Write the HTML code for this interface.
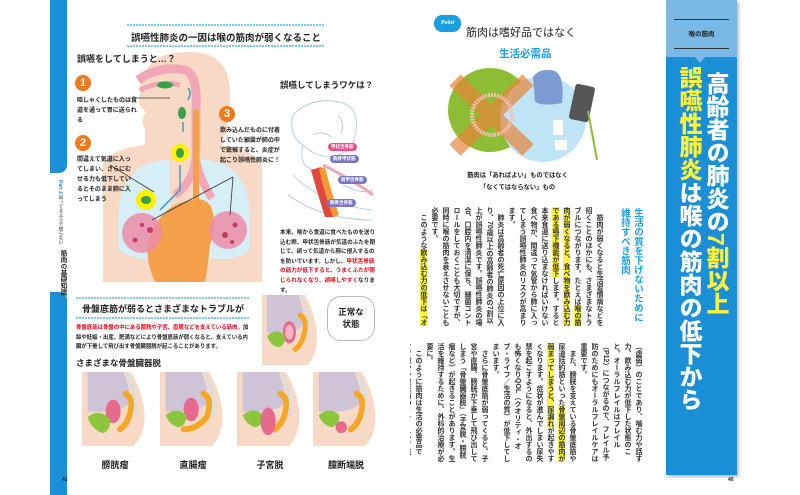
<!DOCTYPE html>
<html><head><meta charset="utf-8"><style>
*{margin:0;padding:0;box-sizing:border-box}
body{width:800px;height:495px;position:relative;overflow:hidden;background:#fff;font-family:"Liberation Sans","Noto Sans CJK JP",sans-serif;color:#222}
.a{position:absolute}
.v{writing-mode:vertical-rl;position:absolute}
.b{font-weight:bold}
.t{font-size:6px;line-height:10px;font-weight:bold}
.hl{background:#fff23a}
.red{color:#e60012}
.dot{position:absolute;height:2px;background:repeating-linear-gradient(90deg,#7fc8ec 0 2px,transparent 2px 3px)}
.num{position:absolute;width:16px;height:16px;border-radius:50%;background:#ee7a1e;color:#fff;font-size:11px;font-weight:bold;text-align:center;line-height:16px}
.pill{position:absolute;font-size:4.5px;color:#fff;border-radius:4px;padding:1px 3px;font-weight:bold}
</style></head><body>

<!-- LEFT PAGE -->
<div class="a" style="left:50px;top:0;width:17px;height:173px;background:#1a8fd6;border-bottom-right-radius:8px"></div>
<div class="a" style="left:50px;top:292px;width:17px;height:203px;background:#1a8fd6;border-top-right-radius:8px"></div>
<div class="v" style="left:57px;top:180px;font-size:5px;color:#1a8fd6;font-weight:bold">Part 2</div>
<div class="v" style="left:58px;top:195px;font-size:4.5px;line-height:6px">知ってるようで知らない</div>
<div class="v b" style="left:57px;top:250px;font-size:6.5px">筋肉の基礎知識</div>

<div class="dot" style="left:127px;top:24px;width:198px"></div>
<div class="a b" style="left:127px;top:30px;width:198px;text-align:center;font-size:9.5px">誤嚥性肺炎の一因は喉の筋肉が弱くなること</div>
<div class="dot" style="left:127px;top:45px;width:198px"></div>

<svg class="a" style="left:100px;top:50px" width="170" height="235">
<path d="M45 25Q50 2 90 2Q128 2 130 40Q130 75 122 95Q150 100 162 112V232H3V112Q15 98 45 95L45 80Q40 70 46 62Q36 55 40 45Q38 32 45 25Z" fill="#f8d9c6"/>
<path d="M18 170Q20 110 70 110V205Q40 215 18 200Z" fill="#d6eef6"/>
<path d="M150 170Q150 110 100 110V205Q130 215 150 200Z" fill="#d6eef6"/>
<path d="M38 30Q60 15 85 20Q98 24 96 60V100" stroke="#f1a7b5" stroke-width="9" fill="none"/>
<path d="M40 40Q60 30 80 35" stroke="#f1a7b5" stroke-width="5" fill="none"/>
<path d="M96 100Q96 130 75 145M96 110Q100 130 112 148" stroke="#f1a7b5" stroke-width="8" fill="none"/>
<path d="M96 60V150" stroke="#f5a04b" stroke-width="6" fill="none"/>
<path d="M96 150Q70 150 55 175Q40 200 55 232H105Q108 215 110 195Q118 170 110 155Q104 148 96 150Z" fill="#f5a04b"/>
<ellipse cx="65" cy="35" rx="8" ry="3.5" fill="#3aa04a"/>
<ellipse cx="82" cy="63" rx="4" ry="6" fill="#3aa04a"/>
<circle cx="80" cy="103" r="9" fill="#fff200"/><ellipse cx="80" cy="103" rx="4" ry="5" fill="#3aa04a"/>
<circle cx="46" cy="150" r="10" fill="#fff200"/><ellipse cx="46" cy="150" rx="5" ry="4" fill="#3aa04a"/>
<circle cx="42" cy="183" r="20" fill="#eb8ca6" opacity=".85"/>
<circle cx="128" cy="180" r="19" fill="#eb8ca6" opacity=".85"/>
<circle cx="50" cy="180" r="3" fill="#c13b6a"/><circle cx="35" cy="190" r="2.5" fill="#c13b6a"/><circle cx="42" cy="175" r="2" fill="#c13b6a"/>
<circle cx="125" cy="185" r="3" fill="#c13b6a"/><circle cx="135" cy="175" r="2.5" fill="#c13b6a"/><circle cx="132" cy="192" r="2" fill="#c13b6a"/>
<path d="M88 38Q92 42 88 50M83 72V82M80 115V140L60 160" stroke="#2e8fd8" stroke-width="1.3" fill="none"/>
<path d="M33 48H70M10 115L54 142M133 127L52 170M133 127L130 165" stroke="#333" stroke-width=".8" fill="none"/>
</svg>
<div class="a b" style="left:77px;top:52px;font-size:9px">誤嚥をしてしまうと…？</div>

<div class="num" style="left:75px;top:75px">1</div>
<div class="a t" style="left:77px;top:96px;width:60px">咀しゃくしたものは食道を通って胃に送られる</div>
<div class="num" style="left:75px;top:135px">2</div>
<div class="a t" style="left:77px;top:155px;width:57px">間違えて気道に入ってしまい、さらにむせる力も低下しているとそのまま肺に入ってしまう</div>
<div class="num" style="left:219px;top:106px">3</div>
<div class="a t" style="left:220px;top:126px;width:60px">飲み込んだものに付着していた細菌が肺の中で繁殖すると、炎症が起こり誤嚥性肺炎に！</div>

<div class="a b" style="left:280px;top:79px;font-size:8.5px">誤嚥してしまうワケは？</div>
<svg class="a" style="left:283px;top:95px" width="95" height="130">
<g stroke="#a9c3e6" stroke-width=".8" fill="none">
<path d="M10 20Q30 0 60 8Q78 15 72 40Q70 55 55 60L45 62Q30 60 20 50Q5 40 10 20Z"/>
<path d="M20 50Q15 70 30 75L45 72M30 40Q40 35 48 42M55 20Q62 28 58 38"/>
<path d="M10 80Q40 110 90 115M5 100Q40 125 90 125M60 90Q80 100 90 95"/>
</g>
<path d="M28 75Q35 100 42 122L52 122Q45 100 38 72Z" fill="#e0473e"/>
<path d="M36 74Q42 100 50 122L56 120Q48 96 42 72Z" fill="#f39a33"/>
<path d="M40 70Q70 85 90 100" stroke="#f0a8b5" stroke-width="3" fill="none"/>
</svg>
<div class="pill" style="left:328px;top:143px;background:#e8508a">甲状舌骨筋</div>
<div class="pill" style="left:330px;top:155px;background:#7a76c4">胸骨甲状筋</div>
<div class="pill" style="left:338px;top:176px;background:#7a76c4">肩甲舌骨筋</div>
<div class="pill" style="left:327px;top:199px;background:#7a76c4">胸骨舌骨筋</div>
<div class="a t" style="left:280px;top:229px;width:98px;font-size:5.6px;line-height:9.6px">本来、喉から食道に食べたものを送り込む際、甲状舌骨筋が気道のふたを閉じて、誤って気道から肺に侵入するのを防いでいます。しかし、<span class="red">甲状舌骨筋の筋力が低下すると、うまくふたが閉じられなくなり、誤嚥しやすく</span>なります。</div>

<div class="dot" style="left:76px;top:297px;width:174px"></div>
<div class="a b" style="left:76px;top:302px;width:174px;text-align:center;font-size:9px">骨盤底筋が弱るとさまざまなトラブルが</div>
<div class="dot" style="left:76px;top:317px;width:174px"></div>
<div class="a t" style="left:76px;top:324px;width:175px;font-size:5.4px;line-height:9.5px"><span class="red">骨盤底筋は骨盤の中にある膀胱や子宮、直腸などを支えている筋肉。</span>加齢や妊娠・出産、肥満などにより骨盤底筋が弱くなると、支えている内臓が下垂して飛び出す骨盤臓器脱が起こることがあります。</div>
<div class="a b" style="left:76px;top:357px;font-size:8.5px">さまざまな骨盤臓器脱</div>

<svg class="a" style="left:262px;top:295px" width="58" height="70" viewBox="0 0 70 75" preserveAspectRatio="none">
<path d="M0 0H52Q64 20 66 40Q68 62 55 75H0Z" fill="#f8d9c6"/><path d="M6 0H44Q52 18 50 32Q40 42 6 40Z" fill="#cfc3d8"/><path d="M48 2Q58 22 56 46" stroke="#bfe3f2" stroke-width="3" stroke-dasharray="3 2" fill="none"/><path d="M46 22Q56 26 50 45Q46 55 40 58" stroke="#f5a623" stroke-width="6" fill="none" stroke-linecap="round"/><ellipse cx="33" cy="40" rx="8" ry="12" fill="#e56a8d"/><ellipse cx="33" cy="40" rx="5" ry="8" fill="#f7b3c6"/><path d="M6 44Q18 34 28 44Q28 54 20 56Q10 54 6 44Z" fill="#8cc63f"/>
</svg>
<div class="a" style="left:327px;top:296px;width:48px;height:45px;border:1px solid #bbb;border-radius:14px;background:#fff;font-size:8.5px;font-weight:bold;text-align:center;line-height:12px;padding-top:9px">正常な<br>状態</div>

<svg class="a" style="left:82px;top:372px" width="66" height="74" viewBox="0 0 70 75" preserveAspectRatio="none">
<path d="M0 0H52Q64 20 66 40Q68 62 55 75H0Z" fill="#f8d9c6"/><path d="M6 0H44Q52 18 50 32Q40 42 6 40Z" fill="#cfc3d8"/><path d="M48 2Q58 22 56 46" stroke="#bfe3f2" stroke-width="3" stroke-dasharray="3 2" fill="none"/><path d="M46 22Q56 26 50 45Q46 55 40 58" stroke="#f5a623" stroke-width="6" fill="none" stroke-linecap="round"/><ellipse cx="33" cy="40" rx="8" ry="12" fill="#e56a8d"/><path d="M6 46Q18 36 30 48Q30 60 22 62Q10 58 6 46Z" fill="#8cc63f"/>
</svg>
<svg class="a" style="left:160px;top:372px" width="66" height="74" viewBox="0 0 70 75" preserveAspectRatio="none">
<path d="M0 0H52Q64 20 66 40Q68 62 55 75H0Z" fill="#f8d9c6"/><path d="M6 0H44Q52 18 50 32Q40 42 6 40Z" fill="#cfc3d8"/><path d="M48 2Q58 22 56 46" stroke="#bfe3f2" stroke-width="3" stroke-dasharray="3 2" fill="none"/><path d="M46 22Q56 26 50 45Q40 58 25 58" stroke="#f5a623" stroke-width="6" fill="none" stroke-linecap="round"/><ellipse cx="33" cy="38" rx="8" ry="12" fill="#e56a8d"/><path d="M6 44Q18 34 28 44Q28 54 20 56Q10 54 6 44Z" fill="#8cc63f"/>
</svg>
<svg class="a" style="left:237px;top:372px" width="66" height="74" viewBox="0 0 70 75" preserveAspectRatio="none">
<path d="M0 0H52Q64 20 66 40Q68 62 55 75H0Z" fill="#f8d9c6"/><path d="M6 0H44Q52 18 50 32Q40 42 6 40Z" fill="#cfc3d8"/><path d="M48 2Q58 22 56 46" stroke="#bfe3f2" stroke-width="3" stroke-dasharray="3 2" fill="none"/><path d="M46 22Q56 26 50 45Q46 55 40 58" stroke="#f5a623" stroke-width="6" fill="none" stroke-linecap="round"/><path d="M6 44Q18 34 28 44Q28 54 20 56Q10 54 6 44Z" fill="#8cc63f"/><ellipse cx="33" cy="50" rx="8" ry="14" fill="#e56a8d"/>
</svg>
<svg class="a" style="left:313px;top:372px" width="66" height="74" viewBox="0 0 70 75" preserveAspectRatio="none">
<path d="M0 0H52Q64 20 66 40Q68 62 55 75H0Z" fill="#f8d9c6"/><path d="M6 0H44Q52 18 50 32Q40 42 6 40Z" fill="#cfc3d8"/><path d="M48 2Q58 22 56 46" stroke="#bfe3f2" stroke-width="3" stroke-dasharray="3 2" fill="none"/><path d="M46 22Q56 26 50 45Q46 55 40 58" stroke="#f5a623" stroke-width="6" fill="none" stroke-linecap="round"/><path d="M6 44Q18 34 28 44Q28 54 20 56Q10 54 6 44Z" fill="#8cc63f"/><ellipse cx="30" cy="56" rx="6" ry="6" fill="#e56a8d"/>
</svg>
<div class="a b" style="left:82px;top:458px;width:66px;text-align:center;font-size:9px">膀胱瘤</div>
<div class="a b" style="left:160px;top:458px;width:66px;text-align:center;font-size:9px">直腸瘤</div>
<div class="a b" style="left:237px;top:458px;width:66px;text-align:center;font-size:9px">子宮脱</div>
<div class="a b" style="left:313px;top:458px;width:66px;text-align:center;font-size:9px">膣断端脱</div>
<div class="a b" style="left:62px;top:477px;font-size:5px">41</div>

<!-- RIGHT PAGE -->
<div class="a" style="left:434px;top:15px;width:27px;height:17px;background:#1a9ee0;border-radius:8px;color:#fff;font-size:6px;font-weight:bold;text-align:center;line-height:17px;font-family:'Liberation Serif',serif;font-style:italic">Point</div>
<div class="a" style="left:466px;top:24px;font-size:11px">筋肉は嗜好品ではなく</div>
<div class="a b" style="left:499px;top:46px;font-size:10.5px;color:#1a9ee0">生活必需品</div>
<svg class="a" style="left:440px;top:65px" width="180" height="100">
<circle cx="50" cy="45" r="42" fill="#8dbd34"/>
<circle cx="103" cy="54" r="43" fill="#bfe4f6"/>
<path d="M15 15L88 85M88 15L15 85" stroke="#e8853a" stroke-width="16" opacity=".7"/>
<circle cx="52" cy="50" r="20" fill="none" stroke="#f4c2b0" stroke-width="4" stroke-dasharray="2 1"/>
<path d="M93 12Q100 2 115 6Q125 12 122 38Q100 42 95 36Z" fill="#7d9bd3"/>
<rect x="132" y="20" width="20" height="36" rx="3" fill="#555" transform="rotate(12 142 38)"/>
<path d="M148 46L157 95" stroke="#8dbd34" stroke-width="2"/>
<rect x="113" y="55" width="10" height="15" fill="#fff"/><rect x="115" y="75" width="12" height="10" fill="#fff"/>
</svg>
<div class="a b" style="left:440px;top:170px;width:155px;text-align:center;font-size:6.3px;line-height:12px">筋肉は「あればよい」ものではなく<br>「なくてはならない」もの</div>

<div class="v b" style="left:618px;top:208px;font-size:9.5px;line-height:13px;color:#1a9ee0;height:125px">生活の質を下げないために<br>維持すべき筋肉</div>
<div class="v" style="left:418px;top:207px;width:187px;height:120px;overflow:hidden;font-size:7px;line-height:11px;font-weight:bold;color:#333">　筋肉が弱くなると生活習慣病などを招くことのほかにも、さまざまなトラブルにつながります。たとえば<span class="hl">喉の筋肉が弱くなると、食べ物を飲み込む力である嚥下機能が低下</span>します。すると本来食道に送り込まなければいけない食べ物が、間違って気管から肺に入ってしまう誤嚥性肺炎のリスクが高まります。<br>　肺炎は高齢者の死亡原因の上位に入り、70歳以上の高齢者の肺炎の7割以上が誤嚥性肺炎です。誤嚥性肺炎の場合、口腔内を清潔に保ち、細菌コントロールをしておくことも大切ですが、同時に喉の筋肉を衰えさせないことも必要です。<br>　このような<span class="hl">飲み込む力の低下は「オーラルフレイル」</span>に該当します。オーラルフレイルはオーラル（口腔）のフレイル</div>
<div class="v" style="left:410px;top:343px;width:234px;height:120px;overflow:hidden;font-size:7px;line-height:11px;font-weight:bold;color:#333">（虚弱）のことであり、噛む力や話す力、飲み込む力が低下した状態のこと。オーラルフレイルはフレイル（P12）につながるので、フレイル予防のためにもオーラルフレイルケアは重要です。<br>　また、膀胱を支えている骨盤底筋や尿道括約筋といった<span class="hl">骨盤周辺の筋肉が弱まってしまうと、尿漏れ</span>が起きやすくなります。症状が進んでしまい尿失禁を起こすようになると、外出するのも怖くなりQOL（クオリティ・オブ・ライフ／生活の質）が低下してしまいます。<br>　さらに骨盤底筋が弱ってくると、子宮や直腸、膀胱が下垂して飛び出してしまう「骨盤臓器脱」（子宮脱・膀胱瘤など）が起きることがあります。生活を維持するために、外科的治療が必要に。<br>　このように筋肉は生活の必需品です。喉や骨盤底筋のトレーニング法（P60〜63）も紹介します。</div>

<div class="a" style="left:666px;top:0;width:71px;height:475px;background:#1a8fd6;box-shadow:2px 2px 3px #bbb"></div>
<div class="a" style="left:666px;top:0;width:71px;height:57px;background:#7ab8e6"></div>
<div class="a" style="left:674px;top:19px;width:55px;height:1px;background:#333"></div>
<div class="a" style="left:674px;top:48px;width:55px;height:1px;background:#333"></div>
<div class="a b" style="left:666px;top:28px;width:71px;text-align:center;font-size:6.5px">喉の筋肉</div>
<div class="a" style="left:695px;top:57px;width:0;height:0;border-left:5px solid transparent;border-right:5px solid transparent;border-top:6px solid #7ab8e6"></div>
<div class="v" style="left:703px;top:72px;font-size:23px;line-height:26px;font-weight:900;color:#fff">高齢者の肺炎の<span style="color:#fff23a">7割以上</span></div>
<div class="v" style="left:676px;top:66px;font-size:23px;line-height:26px;font-weight:900;color:#fff"><span style="color:#fff23a">誤嚥性肺炎</span>は喉の筋肉の低下から</div>
<div class="a b" style="left:728px;top:477px;font-size:5px">40</div>
</body></html>
